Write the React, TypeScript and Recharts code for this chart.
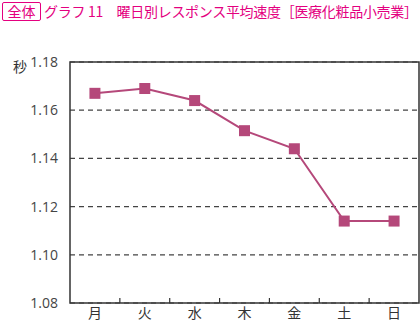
import { LineChart, Line, XAxis, YAxis, CartesianGrid, ReferenceArea } from "recharts";

const days = ["月", "火", "水", "木", "金", "土", "日"];
const speed = [1.167, 1.169, 1.164, 1.1515, 1.144, 1.114, 1.114];
const yTicks = [1.08, 1.1, 1.12, 1.14, 1.16, 1.18];

const data = days.map((d, i) => ({ x: i + 0.5, day: d, v: speed[i] }));
const xTicks = [0.5, 1, 1.5, 2, 2.5, 3, 3.5, 4, 4.5, 5, 5.5, 6, 6.5];

const PINK = "#e4007f";
const LINE = "#b5487a";
const INK = "#333";
const FONT = "'Noto Sans CJK JP', 'Noto Sans', sans-serif";

// labels at day centres, short inward marks on the day boundaries
function DayTick({ x, y, payload }: any) {
  const v = payload.value as number;
  if (Number.isInteger(v)) {
    return <line x1={x} x2={x} y1={y} y2={y - 5} stroke={INK} strokeWidth={1.2} />;
  }
  return (
    <text x={x} y={y + 15} textAnchor="middle" fontSize={14} fill={INK} fontFamily={FONT}>
      {days[Math.floor(v)]}
    </text>
  );
}

function SquareDot({ cx, cy }: any) {
  return <rect x={cx - 5.5} y={cy - 5.5} width={11} height={11} fill={LINE} />;
}

export default function App() {
  return (
    <div style={{ position: "absolute", left: 0, top: 0, width: 420, height: 321, background: "#fff", fontFamily: FONT }}>
      <div
        style={{
          position: "absolute", left: 2, top: 2, width: 37, height: 17,
          border: `1px solid ${PINK}`, borderRadius: 2, color: PINK,
          fontSize: 14, lineHeight: "17px", textAlign: "center",
        }}
      >
        全体
      </div>
      <div style={{ position: "absolute", left: 44, top: 1, fontSize: 14, lineHeight: "20px", color: PINK, whiteSpace: "nowrap", letterSpacing: -0.3 }}>
        グラフ 11　曜日別レスポンス平均速度［医療化粧品小売業］
      </div>
      <div style={{ position: "absolute", left: 13, top: 56, fontSize: 14, color: INK }}>秒</div>
      <LineChart width={420} height={321} data={data} margin={{ top: 62, right: 1, bottom: 0, left: 0 }}>
        <CartesianGrid horizontal vertical={false} stroke="#444" strokeDasharray="5 4" strokeWidth={1.2} />
        <XAxis
          dataKey="x"
          type="number"
          domain={[0, 7]}
          ticks={xTicks}
          interval={0}
          height={18}
          axisLine={false}
          tickLine={false}
          tickSize={0}
          tickMargin={0}
          tick={<DayTick />}
        />
        <YAxis
          type="number"
          domain={[1.08, 1.18]}
          ticks={yTicks}
          width={70}
          axisLine={false}
          tickLine={false}
          tickMargin={6}
          tickFormatter={(v: number) => v.toFixed(2)}
          tick={{ fontSize: 14, fill: "#444", fontFamily: "'Open Sans', sans-serif" }}
        />
        <ReferenceArea x1={0} x2={7} y1={1.08} y2={1.18} fill="none" stroke={INK} strokeWidth={1.5} ifOverflow="visible" />
        <Line dataKey="v" stroke={LINE} strokeWidth={2} dot={<SquareDot />} activeDot={false} isAnimationActive={false} />
      </LineChart>
    </div>
  );
}
